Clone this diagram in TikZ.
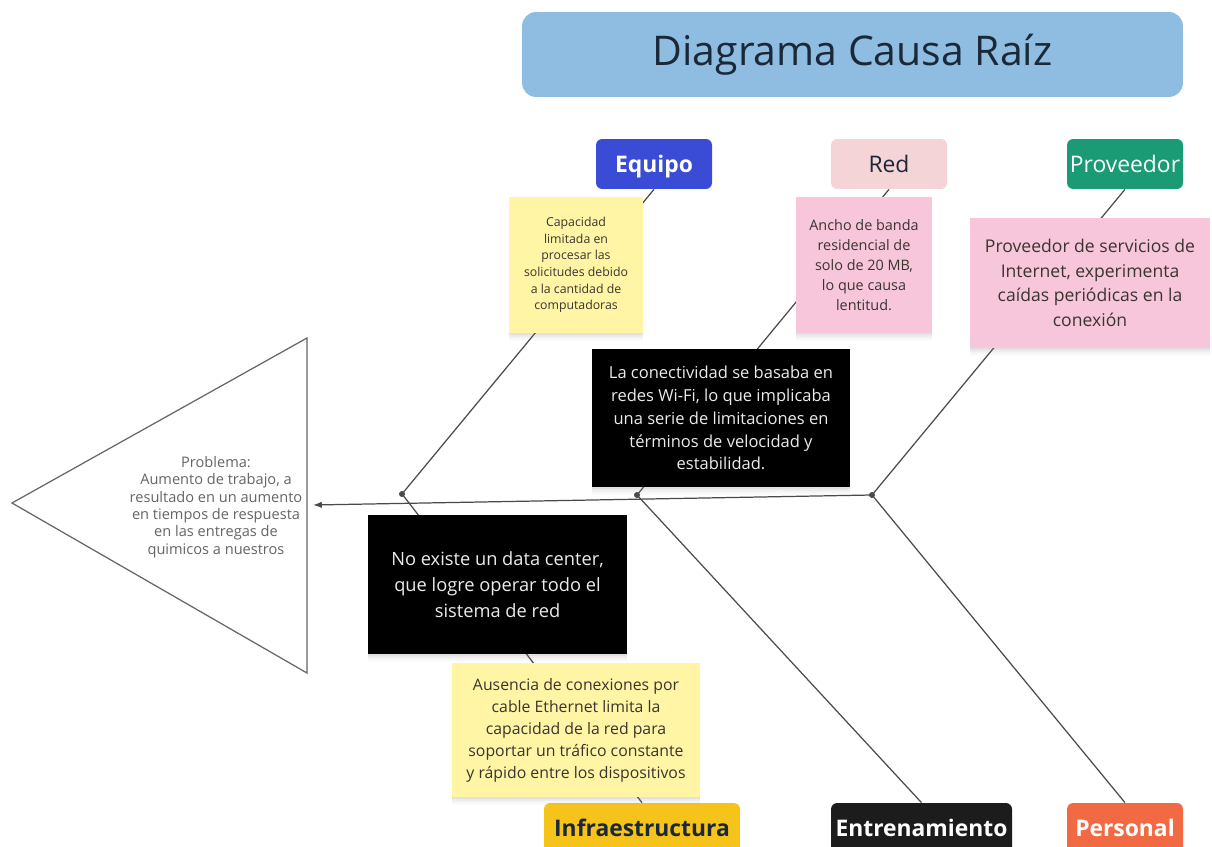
\documentclass[tikz,border=0pt]{standalone}
\usepackage{fontspec}
\setmainfont{Open Sans}
\usetikzlibrary{shadows,arrows.meta,backgrounds}
\definecolor{titleblue}{HTML}{8FBDE2}
\definecolor{titletext}{HTML}{1B2838}
\definecolor{equipoblue}{HTML}{3A4CD6}
\definecolor{redpink}{HTML}{F4D4D7}
\definecolor{provgreen}{HTML}{1A9B76}
\definecolor{noteyellow}{HTML}{FFF5A5}
\definecolor{notepink}{HTML}{F8C6DA}
\definecolor{infragold}{HTML}{F6C31B}
\definecolor{entrblack}{HTML}{1C1C1C}
\definecolor{persorange}{HTML}{F26A43}
\definecolor{linegray}{HTML}{4A4A4A}
\definecolor{notetext}{HTML}{3A3430}
\begin{document}
\begin{tikzpicture}[x=0.02cm,y=-0.02cm,
  catlabel/.style={rounded corners=3.5pt, inner sep=0pt, minimum height=1cm,
    text height=10pt, text depth=0pt, font=\fontsize{13}{15}\selectfont},
  softshadow/.style={
    drop shadow={shadow xshift=0pt, shadow yshift=-1.2pt, opacity=0.10},
    drop shadow={shadow xshift=0pt, shadow yshift=-2.4pt, opacity=0.08},
    drop shadow={shadow xshift=0pt, shadow yshift=-3.6pt, opacity=0.05},
    drop shadow={shadow xshift=0pt, shadow yshift=-4.8pt, opacity=0.03}},
  note/.style={inner sep=0pt, align=center, text=notetext, softshadow},
  blackbox/.style={fill=black, text=white!92!black, inner sep=0pt, align=center, softshadow},
  bone/.style={draw=linegray, line width=0.7pt},
  dot/.style={circle, fill=linegray, inner sep=0pt, minimum size=0.12cm},
]
\useasboundingbox (0,0) rectangle (1212,847);

% title
\node[fill=titleblue, rounded corners=8pt, minimum width=13.22cm, minimum height=1.70cm,
  inner sep=0pt, text=titletext, font=\fontsize{23.3}{27}\selectfont] (title) at (852.5,54.5) {Diagrama Causa Raíz};

% category labels
\node[catlabel, fill=equipoblue, text=white, font=\fontsize{13}{15}\selectfont\bfseries, minimum width=2.32cm] (equipo) at (654,164) {Equipo};
\node[catlabel, fill=redpink, text=titletext, minimum width=2.32cm] (red) at (889,164) {Red};
\node[catlabel, fill=provgreen, text=white, minimum width=2.32cm] (prov) at (1125,164) {Proveedor};
\node[catlabel, fill=infragold, text=titletext, font=\fontsize{13}{15}\selectfont\bfseries, minimum width=3.92cm] (infra) at (642,828) {Infraestructura};
\node[catlabel, fill=entrblack, text=white, font=\fontsize{13}{15}\selectfont\bfseries, minimum width=3.62cm] (entr) at (921.5,828) {Entrenamiento};
\node[catlabel, fill=persorange, text=white, font=\fontsize{13}{15}\selectfont\bfseries, minimum width=2.32cm] (pers) at (1125,828) {Personal};

% dots
\node[dot] (d1) at (402,494) {};
\node[dot] (d2) at (637,495) {};
\node[dot] (d3) at (872,495) {};

% problem triangle
\draw[draw=linegray!85, line width=0.7pt, fill=white] (12,503) -- (307,338) -- (307,673) -- cycle;
\node[align=center, text=linegray!85, font=\fontsize{8.3}{9.9}\selectfont] (prob) at (216,507)
  {Problema:\\Aumento de trabajo, a\\resultado en un aumento\\en tiempos de respuesta\\en las entregas de\\quimicos a nuestros};
\coordinate (tip) at (313,505);

% notes
\node[note, fill=noteyellow, minimum width=2.68cm, minimum height=2.72cm, font=\fontsize{7}{9.5}\selectfont] (n1) at (576,265)
  {Capacidad\\limitada en\\procesar las\\solicitudes debido\\a la cantidad de\\computadoras};
\node[note, fill=notepink, minimum width=2.72cm, minimum height=2.72cm, font=\fontsize{8.2}{11.3}\selectfont] (n2) at (864,265)
  {Ancho de banda\\residencial de\\solo de 20 MB,\\lo que causa\\lentitud.};
\node[note, fill=notepink, minimum width=4.8cm, minimum height=2.6cm, font=\fontsize{10}{14}\selectfont] (n3) at (1090,283)
  {Proveedor de servicios de\\Internet, experimenta\\caídas periódicas en la\\conexión};
\node[blackbox, minimum width=5.16cm, minimum height=2.76cm, font=\fontsize{9.4}{13}\selectfont] (b1) at (721,418)
  {La conectividad se basaba en\\redes Wi-Fi, lo que implicaba\\una serie de limitaciones en\\términos de velocidad y\\estabilidad.};
\node[blackbox, minimum width=5.18cm, minimum height=2.78cm, font=\fontsize{10.4}{14.7}\selectfont] (b2) at (497.5,584.5)
  {No existe un data center,\\que logre operar todo el\\sistema de red};
\node[note, fill=noteyellow, minimum width=4.96cm, minimum height=2.68cm, font=\fontsize{9}{12.5}\selectfont] (n4) at (576,730)
  {Ausencia de conexiones por\\cable Ethernet limita la\\capacidad de la red para\\soportar un tráfico constante\\y rápido entre los dispositivos};

% connectors behind
\begin{scope}[on background layer]
\draw[bone] (equipo.south) -- (d1.center);
\draw[bone] (d1.center) -- (infra.north);
\draw[bone] (red.south) -- (d2.center);
\draw[bone] (d2.center) -- (entr.north);
\draw[bone] (prov.south) -- (d3.center);
\draw[bone] (d3.center) -- (pers.north);
\end{scope}
\draw[bone, -{Latex[length=5pt,width=3.6pt]}] (d3.center) -- (tip);
\end{tikzpicture}
\end{document}
